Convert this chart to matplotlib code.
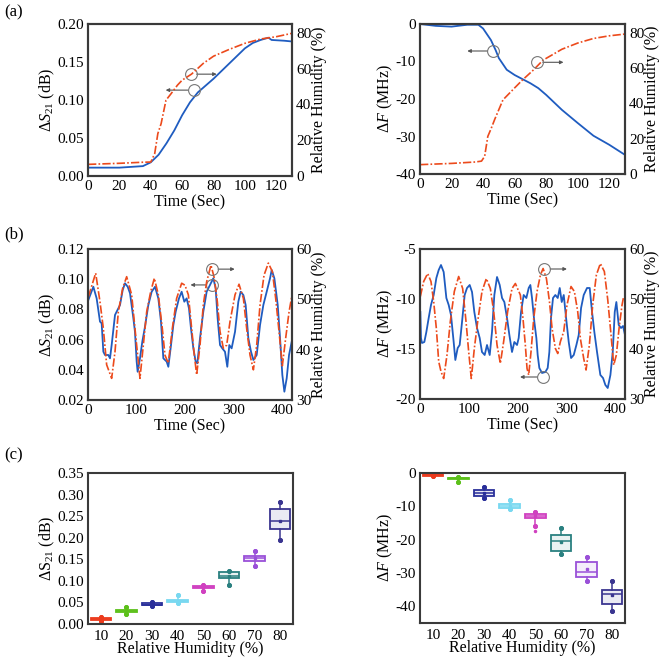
import matplotlib
matplotlib.use("Agg")
import matplotlib.pyplot as plt
from matplotlib.colors import to_rgba

plt.rcParams['font.family'] = ['Liberation Serif', 'DejaVu Serif']
plt.rcParams['mathtext.fontset'] = 'custom'
plt.rcParams['mathtext.rm'] = 'Liberation Serif'
plt.rcParams['mathtext.it'] = 'Liberation Serif:italic'
plt.rcParams['axes.unicode_minus'] = False

BLUE = '#1f5cc0'
RED = '#ec4a1c'
SPINE = '#3a3a3a'

# ---- (a) step response, 0-130 s ----
a_t_s21 = [0, 20, 35, 40, 45, 50, 55, 60, 65, 70, 75, 80, 90, 100, 105, 110, 115, 117, 125, 130]
a_s21 = [0.011, 0.011, 0.013, 0.018, 0.028, 0.043, 0.060, 0.080, 0.097, 0.110, 0.119, 0.128,
         0.148, 0.168, 0.175, 0.179, 0.182, 0.179, 0.178, 0.177]
a_t_rh1 = [0, 20, 35, 40, 42.5, 44.5, 46.6, 49.7, 53, 57, 60, 66, 73.5, 80, 90, 100, 110, 120, 130]
a_rh1 = [6.5, 7.1, 7.7, 7.8, 12.5, 23.7, 29.3, 42.4, 46.1, 50.8, 53.6, 57.0, 63.0, 67.0, 70.8,
         74.2, 76.6, 77.9, 79.8]

a_t_df = [0, 10, 20, 30, 37, 40, 45, 48, 50, 55, 60, 65, 70, 75, 80, 90, 100, 110, 120, 130]
a_df = [0, -0.5, -0.7, -0.2, -0.2, -1.2, -4.3, -7.0, -9.1, -12.2, -13.6, -14.7, -15.8, -17.1,
        -18.9, -22.9, -26.4, -29.8, -32.2, -34.9]
a_t_rh2 = [0, 20, 35, 39, 41, 43, 45, 47.4, 52.6, 59.8, 65, 72, 78, 90, 100, 110, 120, 130]
a_rh2 = [5.3, 6.0, 6.8, 7.3, 10.0, 21.3, 25.5, 31.0, 42.0, 48.6, 53.3, 59.0, 64.5, 70.7, 74.2,
         76.8, 78.3, 79.3]

# ---- (b) cyclic response, 0-420 s ----
b1_t_rh = [0.7, 15.8, 24.7, 31.6, 38.4, 48.7, 55.6, 62.4, 71.4, 79.6, 89.9, 96.7, 103.6, 107,
           113.9, 120.8, 129, 136.6, 144.8, 153, 158.5, 165.4, 173.6, 182.5, 192.8, 199.7, 206.6,
           213.4, 218.9, 223.7, 230.6, 237.4, 244.3, 253.2, 260.1, 266.3, 271.8, 278.6, 285.5,
           292.4, 302.7, 310.9, 319.9, 326.7, 333.6, 340.5, 347.3, 354.2, 362.4, 371.3, 379.6,
           386.4, 393.3, 400.1, 407, 413.9, 419.4]
b1_rh = [50.5, 55.2, 49.5, 44.2, 37.0, 34.3, 39.6, 47.5, 52.2, 54.5, 50.9, 44.2, 37.6, 34.3,
         40.9, 47.5, 51.5, 54.2, 50.9, 44.2, 38.9, 37.3, 44.2, 50.2, 53.2, 52.8, 50.9, 44.2,
         38.9, 35.0, 40.9, 48.9, 53.5, 56.8, 54.2, 49.5, 43.6, 40.3, 40.9, 45.6, 50.9, 53.0,
         50.2, 44.2, 38.9, 36.0, 40.9, 48.9, 54.8, 57.2, 55.5, 50.2, 43.6, 36.8, 42.3, 47.5, 50.5]
b1_t_s21 = [0.7, 11, 17.8, 24.7, 28.1, 31.6, 35, 41.9, 45.3, 48.7, 55.6, 59, 65.9, 71.4, 76.2,
            81.7, 86.5, 93.4, 96.7, 100.2, 102.2, 107, 111.8, 117.3, 124.2, 131.1, 138, 144.8,
            150.3, 155.1, 162, 165.4, 170.9, 175.7, 180.5, 187.3, 192.8, 198.3, 203.1, 207.9,
            212, 216.9, 221.7, 225.1, 230.6, 237.4, 244.3, 251.2, 258, 262.8, 266.9, 271.8, 276.5,
            282, 286.8, 290.9, 295.7, 302.7, 309.5, 314.3, 319.9, 324.6, 330.1, 335.6, 340.5,
            347.3, 354.2, 361, 367.9, 374.8, 378.2, 383.7, 390.6, 395.4, 400.1, 404.3, 409.1,
            413.9, 419.4]
b1_s21 = [0.0862, 0.095, 0.0873, 0.0719, 0.0708, 0.052, 0.0498, 0.0498, 0.0476, 0.0564, 0.0763,
          0.0785, 0.0829, 0.0928, 0.0973, 0.095, 0.0907, 0.0741, 0.0652, 0.0454, 0.0387, 0.0476,
          0.0586, 0.0685, 0.0829, 0.0917, 0.095, 0.0873, 0.0719, 0.0476, 0.0454, 0.042, 0.0564,
          0.0697, 0.0785, 0.0873, 0.0917, 0.0851, 0.0873, 0.0807, 0.0675, 0.0542, 0.0454,
          0.0443, 0.0609, 0.0785, 0.0917, 0.0962, 0.1006, 0.094, 0.0741, 0.0564, 0.0542, 0.052,
          0.042, 0.0564, 0.0542, 0.0652, 0.0851, 0.0917, 0.0895, 0.0829, 0.0609, 0.052, 0.0465,
          0.0498, 0.0697, 0.0829, 0.0917, 0.1006, 0.1061, 0.1006, 0.0829, 0.0609, 0.0366,
          0.0255, 0.0344, 0.0498, 0.0586]

b2_t_rh = [0.7, 7.5, 15.7, 22.5, 28, 33.5, 38.3, 43, 48.5, 55.3, 62.1, 70.3, 79.2, 87.4, 94.3,
           99.7, 105.1, 111.3, 118.2, 127, 135.9, 144.1, 151, 157.8, 164.6, 171.4, 179.6, 188.5,
           195.4, 205.6, 211, 215.8, 219.3, 222.7, 227.5, 233, 239.8, 246.7, 252.2, 259, 265.2,
           270.6, 277.4, 282.2, 287.7, 294.5, 301.2, 309.4, 316.3, 323.1, 328.6, 335.4, 340.2,
           347, 353.8, 361.3, 369.5, 377.7, 384.6, 391.4, 396.9, 402.3, 407.8, 413.9, 417.3]
b2_rh = [50.5, 53.5, 55.1, 53.5, 49.5, 44.1, 37.5, 35.5, 34.1, 38.8, 45.5, 51.5, 54.5, 52.1,
         45.5, 39.5, 34.1, 40.1, 45.5, 51.5, 54.1, 52.1, 47.5, 40.8, 37.1, 41.5, 47.5, 52.1,
         53.1, 50.8, 46.1, 40.8, 36.1, 34.8, 39.5, 46.1, 51.5, 54.8, 56.1, 54.1, 49.5, 44.1,
         40.1, 39.1, 41.5, 43.5, 48.8, 52.5, 51.5, 47.5, 42.1, 38.1, 35.8, 40.8, 48.8, 54.8,
         57.1, 55.5, 49.9, 42.8, 36.8, 38.8, 44.1, 48.8, 50.5]
b2_t_df = [0.7, 2, 4.1, 8.9, 13, 17.8, 22.5, 28, 33.5, 38.3, 43, 48.5, 54, 58.8, 63.5, 69, 72.4,
           77.2, 81.3, 86.1, 91.5, 96.3, 101.8, 106.6, 111.3, 116.8, 122.3, 127, 132.5, 137.3,
           142.8, 147.5, 152.3, 157.8, 163.3, 168.1, 172.8, 178.3, 183.1, 188.5, 193.3, 198.8,
           202.2, 207, 212.4, 217.9, 222.7, 226.1, 229.5, 234.3, 238.4, 241.1, 244.5, 250,
           256.8, 261.6, 265, 268.4, 272.5, 277.3, 282.2, 286.3, 290.4, 294.5, 299.3, 304.7,
           309.5, 315, 320.4, 325.2, 330, 335.4, 342.2, 347.7, 352.5, 357.2, 362.7, 369.5, 375,
           379.8, 384.6, 390.1, 394.9, 399, 402.3, 407.1, 411.9, 416, 420]
b2_df = [-11.3, -13.9, -14.4, -14.3, -13.3, -11.9, -10.6, -9.6, -7.9, -7.1, -6.6, -7.3, -9.9,
         -10.6, -11.6, -14.3, -16.1, -14.9, -14.6, -12.3, -9.6, -8.9, -8.6, -9.3, -11.3, -12.9,
         -13.9, -15.3, -15.6, -14.6, -15.6, -13.3, -9.6, -7.8, -8.6, -9.9, -10.3, -11.9, -13.6,
         -15.3, -14.3, -14.6, -13.9, -11.3, -9.6, -9.9, -8.9, -8.6, -9.9, -12.3, -13.9, -15.6,
         -16.9, -17.4, -17.3, -16.9, -15.3, -11.9, -9.9, -9.6, -9.9, -8.9, -10.3, -9.6, -11.9,
         -14.3, -15.9, -15.6, -14.6, -13.6, -10.9, -9.6, -8.9, -8.9, -11.3, -13.3, -15.3,
         -17.6, -17.9, -18.6, -18.9, -17.6, -15.3, -11.3, -10.3, -12.6, -12.9, -12.7, -13.6]

# ---- (c) box statistics vs relative humidity ----
rh_levels = ['10', '20', '30', '40', '50', '60', '70', '80']
box_colors = ['#ec3a1c', '#5cc01a', '#2a2f9a', '#78d8f0', '#d040c0', '#2a8080', '#9a50d8', '#3a3590']

c_s21_lo = [0.008, 0.023, 0.041, 0.049, 0.077, 0.090, 0.134, 0.194]
c_s21_q1 = [0.010, 0.027, 0.043, 0.051, 0.084, 0.106, 0.146, 0.221]
c_s21_med = [0.012, 0.030, 0.045, 0.054, 0.086, 0.111, 0.153, 0.238]
c_s21_q3 = [0.014, 0.033, 0.048, 0.056, 0.088, 0.120, 0.158, 0.267]
c_s21_hi = [0.016, 0.039, 0.050, 0.068, 0.090, 0.124, 0.169, 0.283]
c_s21_mean = [0.012, 0.030, 0.045, 0.054, 0.086, 0.112, 0.152, 0.239]

c_df_lo = [-0.9, -2.8, -7.6, -10.7, -15.8, -24.3, -32.3, -41.4]
c_df_q1 = [-0.8, -1.8, -7.0, -10.5, -13.6, -23.3, -31.2, -39.2]
c_df_med = [-0.6, -1.6, -6.0, -10.0, -13.0, -20.5, -29.8, -36.2]
c_df_q3 = [-0.4, -1.4, -5.2, -9.3, -12.2, -18.6, -26.7, -35.0]
c_df_hi = [-0.3, -1.2, -4.3, -8.1, -11.8, -16.6, -25.1, -32.3]
c_df_mean = [-0.6, -1.6, -6.0, -9.8, -13.0, -20.8, -28.9, -36.6]
c_df_fliers = [[], [], [], [], [-17.3], [], [], []]

W, H = 660, 658
fig = plt.figure(figsize=(W / 100, H / 100), dpi=100)


def make_ax(x0, x1, y0, y1):
    return fig.add_axes([x0 / W, 1 - y1 / H, (x1 - x0) / W, (y1 - y0) / H])


def style(ax):
    for s in ax.spines.values():
        s.set_color(SPINE)
        s.set_linewidth(1.5)
    ax.tick_params(length=0, pad=3, labelsize=11)


def circle_arrow(ax, x, y, x_end):
    ax.plot([x], [y], 'o', mfc='none', mec='#777777', ms=8.5, mew=0.8, zorder=6)
    ax.annotate('', xy=(x_end, y), xytext=(x, y),
                arrowprops=dict(arrowstyle='-|>', color='#555555', lw=0.8,
                                mutation_scale=5, shrinkA=4.2, shrinkB=0))


dash = (0, (5, 1.3, 1, 1.3))
label_kw = dict(fontsize=11.5)


def dual_panel(x0, x1, y0, y1, t1, v1, t2, v2, xlim, xticks, ylim1, yticks1, fmt1, ylabel1,
               ylim2, yticks2):
    ax = make_ax(x0, x1, y0, y1)
    ax.plot(t1, v1, color=BLUE, lw=1.3)
    ax.set_xlim(*xlim)
    ax.set_ylim(*ylim1)
    ax.set_xticks(xticks)
    ax.set_yticks(yticks1)
    ax.set_yticklabels([fmt1.format(v) for v in yticks1])
    ax.set_xlabel('Time (Sec)', labelpad=1, **label_kw)
    ax.set_ylabel(ylabel1, labelpad=0, **label_kw)
    ax2 = ax.twinx()
    ax2.plot(t2, v2, color=RED, lw=1.2, linestyle=dash)
    ax2.set_ylim(*ylim2)
    ax2.set_yticks(yticks2)
    ax2.set_ylabel('Relative Humidity (%)', labelpad=0, **label_kw)
    style(ax)
    style(ax2)
    return ax, ax2


# (a) left
ax, ax2 = dual_panel(88, 292, 24, 176, a_t_s21, a_s21, a_t_rh1, a_rh1, (0, 130),
                     [0, 20, 40, 60, 80, 100, 120], (0, 0.2),
                     [0, 0.05, 0.10, 0.15, 0.20], '{:.2f}', r'$\Delta S_{21}$ (dB)',
                     (0, 85), [0, 20, 40, 60, 80])
circle_arrow(ax, 65.5, 0.134, 82)
circle_arrow(ax, 67.3, 0.113, 49.5)

# (a) right
ax, ax2 = dual_panel(420, 625, 24, 174, a_t_df, a_df, a_t_rh2, a_rh2, (0, 130),
                     [0, 20, 40, 60, 80, 100, 120], (-40, 0),
                     [-40, -30, -20, -10, 0], '{:d}', r'$\Delta F$ (MHz)',
                     (0, 85), [0, 20, 40, 60, 80])
circle_arrow(ax, 46.4, -7.2, 30)
circle_arrow(ax2, 74.2, 63.3, 91)

# (b) left
ax, ax2 = dual_panel(88, 292, 249, 400, b1_t_s21, b1_s21, b1_t_rh, b1_rh, (0, 420),
                     [0, 100, 200, 300, 400], (0.02, 0.12),
                     [0.02, 0.04, 0.06, 0.08, 0.10, 0.12], '{:.2f}', r'$\Delta S_{21}$ (dB)',
                     (30, 60), [30, 40, 50, 60])
circle_arrow(ax2, 255.9, 56, 302)
circle_arrow(ax, 254.6, 0.0962, 211)

# (b) right
ax, ax2 = dual_panel(420, 625, 249, 399, b2_t_df, b2_df, b2_t_rh, b2_rh, (0, 420),
                     [0, 100, 200, 300, 400], (-20, -5),
                     [-20, -15, -10, -5], '{:d}', r'$\Delta F$ (MHz)',
                     (30, 60), [30, 40, 50, 60])
circle_arrow(ax2, 254.8, 56, 301)
circle_arrow(ax, 252, -17.8, 205)


def box_panel(x0, x1, y0, y1, lo, q1, med, q3, hi, mean, fliers, ylim, yticks, fmt, ylabel):
    ax = make_ax(x0, x1, y0, y1)
    stats = []
    for i in range(len(rh_levels)):
        stats.append(dict(whislo=lo[i], q1=q1[i], med=med[i], q3=q3[i], whishi=hi[i],
                          mean=mean[i], fliers=fliers[i], label=rh_levels[i]))
    res = ax.bxp(stats, positions=range(1, 9), widths=0.8, showmeans=True, patch_artist=True,
                 capwidths=0.0)
    for i, c in enumerate(box_colors):
        res['boxes'][i].set_facecolor(to_rgba(c, 0.1))
        res['boxes'][i].set_edgecolor(c)
        res['boxes'][i].set_linewidth(1.3)
        res['medians'][i].set_color(c)
        res['medians'][i].set_linewidth(1.1)
        for w in res['whiskers'][2 * i:2 * i + 2]:
            w.set_color(c)
            w.set_linewidth(1.1)
        for cp in res['caps'][2 * i:2 * i + 2]:
            cp.set_marker('o')
            cp.set_markersize(2.5)
            cp.set_color(c)
        res['means'][i].set_marker('s')
        res['means'][i].set_markersize(2)
        res['means'][i].set_markerfacecolor(c)
        res['means'][i].set_markeredgecolor(c)
        res['fliers'][i].set_marker('.')
        res['fliers'][i].set_markersize(3)
        res['fliers'][i].set_markeredgecolor(c)
        res['fliers'][i].set_markerfacecolor(c)
    ax.set_xlim(0.5, 8.5)
    ax.set_ylim(*ylim)
    ax.set_yticks(yticks)
    ax.set_yticklabels([fmt.format(v) for v in yticks])
    ax.set_xlabel('Relative Humidity (%)', labelpad=-1, **label_kw)
    ax.set_ylabel(ylabel, labelpad=0, **label_kw)
    style(ax)
    ax.tick_params(axis='x', pad=4)
    return ax


box_panel(88, 293, 473, 624, c_s21_lo, c_s21_q1, c_s21_med, c_s21_q3, c_s21_hi, c_s21_mean,
          [[]] * 8, (0, 0.35), [0, 0.05, 0.10, 0.15, 0.20, 0.25, 0.30, 0.35], '{:.2f}',
          r'$\Delta$S$_{21}$ (dB)')
box_panel(420, 625, 473, 623, c_df_lo, c_df_q1, c_df_med, c_df_q3, c_df_hi, c_df_mean,
          c_df_fliers, (-45, 0), [-40, -30, -20, -10, 0], '{:d}', r'$\Delta F$ (MHz)')

for lab, y in [('(a)', 12), ('(b)', 234), ('(c)', 455)]:
    fig.text(4 / W, 1 - y / H, lab, fontsize=12, va='center', ha='left')

fig.savefig('out.png', dpi=100)
